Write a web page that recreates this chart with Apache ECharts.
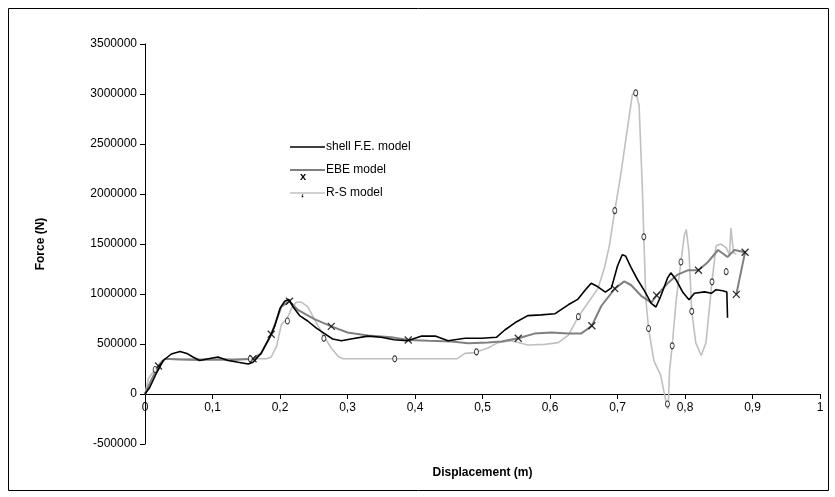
<!DOCTYPE html>
<html>
<head>
<meta charset="utf-8">
<script src="https://cdn.jsdelivr.net/npm/echarts@6/dist/echarts.min.js"></script>
<style>
  html, body { margin: 0; padding: 0; background: #fff; }
  #chart { width: 835px; height: 497px; }
</style>
</head>
<body>
<div id="chart"></div>
<script>
// displacement (m), force (N)
var shellFE = [[0,0],[0.007,65000],[0.017,210000],[0.027,335000],[0.039,400000],[0.052,424000],[0.062,406000],[0.071,370000],[0.081,335000],[0.094,353000],[0.108,370000],[0.123,335000],[0.138,317000],[0.153,300000],[0.16,317000],[0.172,406000],[0.185,568000],[0.192,676000],[0.2,856000],[0.207,928000],[0.213,946000],[0.219,874000],[0.229,784000],[0.241,730000],[0.254,658000],[0.266,604000],[0.278,550000],[0.291,532000],[0.305,550000],[0.33,579000],[0.35,568000],[0.369,543000],[0.389,532000],[0.41,579000],[0.43,579000],[0.449,532000],[0.474,557000],[0.499,557000],[0.521,568000],[0.533,640000],[0.548,712000],[0.567,784000],[0.587,791000],[0.607,802000],[0.627,892000],[0.641,946000],[0.654,1054000],[0.661,1108000],[0.671,1072000],[0.682,1018000],[0.691,1061000],[0.7,1280000],[0.707,1392000],[0.712,1380000],[0.72,1266000],[0.73,1140000],[0.74,1032000],[0.75,906000],[0.757,870000],[0.764,978000],[0.774,1158000],[0.779,1212000],[0.787,1140000],[0.797,1014000],[0.806,942000],[0.814,1007000],[0.829,1021000],[0.839,1007000],[0.846,1043000],[0.856,1032000],[0.862,1021000],[0.863,763000]];

var ebeModel = [[0,0],[0.01,150000],[0.02,280000],[0.03,352000],[0.05,345000],[0.08,340000],[0.1,345000],[0.13,340000],[0.16,352000],[0.172,406000],[0.187,597000],[0.202,874000],[0.214,928000],[0.227,838000],[0.251,748000],[0.276,676000],[0.3,615000],[0.33,586000],[0.365,568000],[0.39,540000],[0.42,532000],[0.454,525000],[0.479,507000],[0.508,514000],[0.528,525000],[0.553,557000],[0.577,604000],[0.602,615000],[0.627,604000],[0.646,604000],[0.662,683000],[0.676,880000],[0.696,1054000],[0.71,1126000],[0.72,1090000],[0.735,982000],[0.75,914000],[0.758,986000],[0.774,1104000],[0.789,1194000],[0.804,1237000],[0.82,1237000],[0.834,1320000],[0.849,1440000],[0.863,1370000],[0.873,1439000],[0.889,1417000],[0.876,996000]];
var ebeMarks = [[0.02,280000],[0.16,352000],[0.187,597000],[0.214,928000],[0.276,676000],[0.39,540000],[0.553,557000],[0.662,683000],[0.696,1054000],[0.758,986000],[0.82,1237000],[0.876,996000],[0.889,1417000]];

var rsModel = [[0,0],[0.005,155000],[0.015,245000],[0.025,335000],[0.032,352000],[0.1,352000],[0.18,352000],[0.187,370000],[0.195,478000],[0.202,694000],[0.211,760000],[0.217,856000],[0.224,917000],[0.232,917000],[0.241,874000],[0.251,748000],[0.264,586000],[0.276,460000],[0.286,378000],[0.293,352000],[0.37,352000],[0.462,352000],[0.474,406000],[0.489,414000],[0.508,460000],[0.523,514000],[0.543,532000],[0.567,490000],[0.592,496000],[0.612,514000],[0.627,586000],[0.642,773000],[0.656,910000],[0.671,1054000],[0.681,1270000],[0.688,1486000],[0.696,1834000],[0.705,2201000],[0.715,2669000],[0.722,2993000],[0.727,3030000],[0.732,2885000],[0.737,2021000],[0.739,1572000],[0.742,942000],[0.746,655000],[0.754,331000],[0.764,187000],[0.772,-83000],[0.775,-150000],[0.777,223000],[0.781,482000],[0.787,942000],[0.794,1320000],[0.799,1590000],[0.802,1644000],[0.806,1410000],[0.81,827000],[0.816,511000],[0.824,385000],[0.831,511000],[0.84,1122000],[0.846,1482000],[0.853,1500000],[0.861,1464000],[0.866,1392000],[0.868,1660000],[0.872,1410000],[0.876,1400000]];
var rsMarks = [[0.015,245000],[0.156,352000],[0.211,730000],[0.265,557000],[0.37,352000],[0.491,421000],[0.642,773000],[0.696,1834000],[0.727,3011000],[0.739,1572000],[0.746,655000],[0.774,-100000],[0.781,482000],[0.794,1320000],[0.81,827000],[0.84,1122000],[0.861,1223000]];

var seriesNames = ['shell F.E. model', 'EBE model', 'R-S model'];

var font = '"Liberation Sans", Arial, sans-serif';
var chart = echarts.init(document.getElementById('chart'));

chart.setOption({
  animation: false,
  backgroundColor: '#fff',
  textStyle: { fontFamily: font },
  graphic: [
    { type: 'rect', shape: { x: 8.5, y: 8.5, width: 820, height: 482 },
      style: { fill: 'none', stroke: '#000', lineWidth: 1 }, silent: true },
    // marker hints under the legend lines, as in the original
    { type: 'text', left: 300, top: 171, style: { text: 'x', font: 'bold 11px ' + font, fill: '#000' }, silent: true },
    { type: 'text', left: 301, top: 193, style: { text: '\u02bb', font: 'bold 11px ' + font, fill: '#000' }, silent: true }
  ],
  grid: { left: 145, right: 15, top: 44, bottom: 53, outerBoundsMode: 'none', containLabel: false },
  legend: {
    orient: 'vertical',
    left: 285,
    top: 136,
    itemWidth: 35,
    itemHeight: 14,
    itemGap: 11,
    data: [
      { name: seriesNames[0], icon: 'path://M0,0L36,0L36,1.6L0,1.6Z' },
      { name: seriesNames[1], icon: 'path://M0,0L36,0L36,2L0,2Z' },
      { name: seriesNames[2], icon: 'path://M0,0L36,0L36,1.6L0,1.6Z' }
    ],
    itemStyle: { borderWidth: 0 },
    textStyle: { fontFamily: font, fontSize: 12, color: '#000', padding: [0, 0, 0, -4] }
  },
  xAxis: {
    type: 'value',
    min: 0, max: 1, interval: 0.1,
    offset: -50,   // axis sits on the zero line, labels with it
    name: 'Displacement (m)',
    nameLocation: 'middle',
    nameGap: 73,
    nameTextStyle: { fontFamily: font, fontSize: 12, fontWeight: 'bold', color: '#000' },
    axisLine: { onZero: false, lineStyle: { color: '#000', width: 1 } },
    axisTick: { show: true, length: 5, lineStyle: { color: '#000' } },
    axisLabel: { color: '#000', fontSize: 12, margin: 8, formatter: function (v) { return String(v).replace('.', ','); } },
    splitLine: { show: false }
  },
  yAxis: {
    type: 'value',
    min: -500000, max: 3500000, interval: 500000,
    name: 'Force (N)',
    nameLocation: 'middle',
    nameGap: 98,
    nameTextStyle: { fontFamily: font, fontSize: 12, fontWeight: 'bold', color: '#000' },
    axisLine: { show: true, onZero: false, lineStyle: { color: '#000', width: 1 } },
    axisTick: { show: true, length: 5, lineStyle: { color: '#000' } },
    axisLabel: { color: '#000', fontSize: 12, margin: 8, formatter: function (v) { return String(v); } },
    splitLine: { show: false }
  },
  series: [
    { name: seriesNames[2], type: 'line', data: rsModel, showSymbol: false, symbol: 'none', z: 2,
      lineStyle: { color: '#c0c0c0', width: 1.6 }, itemStyle: { color: '#c0c0c0' } },
    { name: seriesNames[1], type: 'line', data: ebeModel, showSymbol: false, symbol: 'none', z: 3,
      lineStyle: { color: '#808080', width: 2 }, itemStyle: { color: '#808080' } },
    { name: seriesNames[0], type: 'line', data: shellFE, showSymbol: false, symbol: 'none', z: 4,
      lineStyle: { color: '#000', width: 1.6 }, itemStyle: { color: '#000' } },
    { name: seriesNames[1], type: 'scatter', data: ebeMarks, z: 5,
      symbol: 'path://M0,0L10,10M10,0L0,10', symbolSize: 7,
      itemStyle: { color: 'none', borderColor: '#000', borderWidth: 1.3 } },
    { name: seriesNames[2], type: 'scatter', data: rsMarks, z: 5,
      symbol: 'circle', symbolSize: [4, 6],
      itemStyle: { color: '#fff', borderColor: '#000', borderWidth: 1 } }
  ]
});
</script>
</body>
</html>
